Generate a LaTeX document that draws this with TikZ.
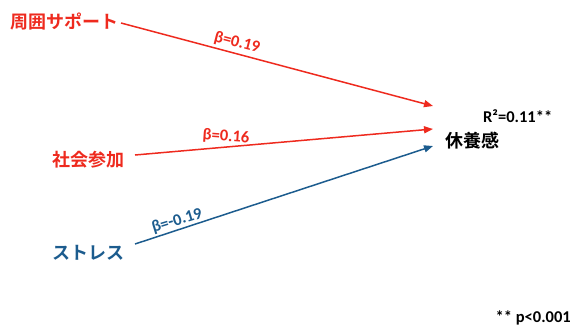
\documentclass[tikz,border=0pt]{standalone}
\usepackage{fontspec}
\setmainfont{Carlito}
\newfontfamily\jp{Noto Sans CJK JP}[BoldFont=* Bold]
\usetikzlibrary{arrows.meta}
\definecolor{cred}{HTML}{EE2A1E}
\definecolor{cblue}{HTML}{1C5C8E}
\tikzset{
  x=1pt,y=-1pt,
  var/.style={font=\jp\bfseries\fontsize{18}{20}\selectfont, inner sep=0pt},
  path/.style={line width=1.5pt,-{Triangle[length=9pt,width=7pt]}},
  coef/.style={font=\bfseries\fontsize{16.5}{18}\selectfont, inner sep=0pt},
}
\begin{document}
\begin{tikzpicture}
\useasboundingbox (0,0) rectangle (572,327);
\node[var,text=cred,anchor=west] (sup) at (10,22) {周囲サポート};
\node[var,text=cred,anchor=west] (soc) at (52,160) {社会参加};
\node[var,text=cblue,anchor=west] (str) at (52,253) {ストレス};
\node[var,text=black,anchor=west] (rest) at (445,141) {休養感};
\coordinate (t1) at (433,106);
\coordinate (t2) at (433,129);
\coordinate (t3) at (433,146);
\coordinate (s1) at (121,23);
\coordinate (s2) at (135,155);
\coordinate (s3) at (135,244);
\draw[path,cred] (s1) -- (t1);
\draw[path,cred] (s2) -- (t2);
\draw[path,cblue] (s3) -- (t3);
\node[coef,text=cred,rotate=-14.5] (b1) at (237,43) {β=0.19};
\node[coef,text=cred,rotate=-4] (b2) at (226,137) {β=0.16};
\node[coef,text=cblue,rotate=17] (b3) at (177,221) {β=-0.19};
\node[coef,anchor=west] (r2) at (483,116) {R²=0.11**};
\node[coef,anchor=east] (p) at (571,318) {** p<0.001};
\end{tikzpicture}
\end{document}
